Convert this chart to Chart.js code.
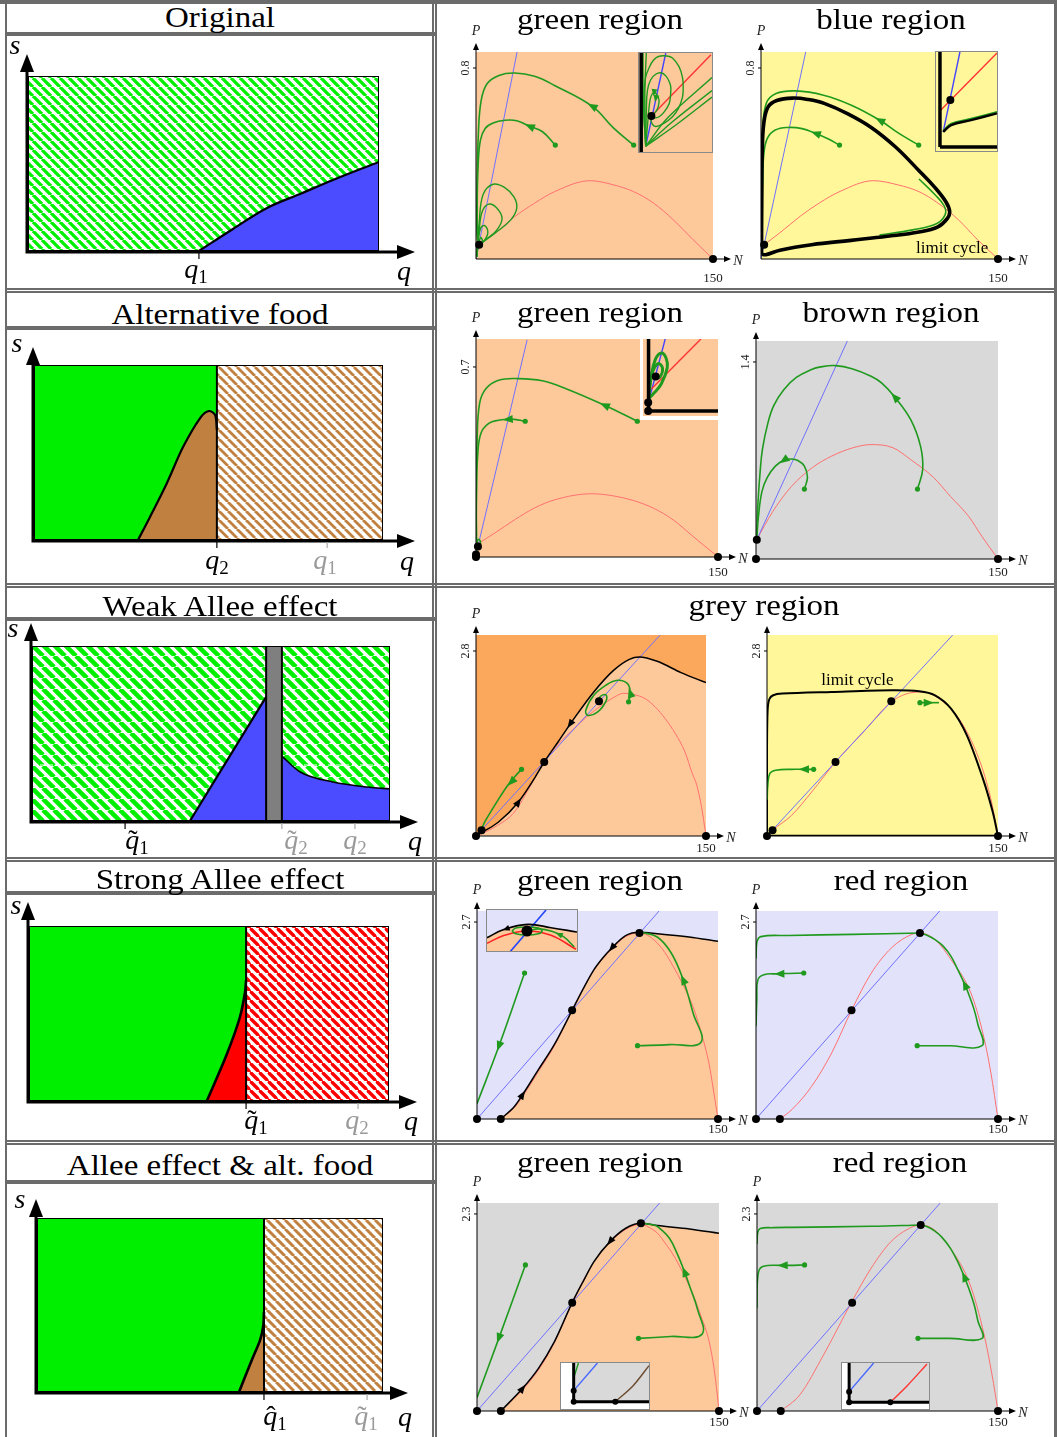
<!DOCTYPE html>
<html>
<head>
<meta charset="utf-8">
<script src="https://cdn.jsdelivr.net/npm/chart.js@4.4.1/dist/chart.umd.min.js"></script>
<style>
body { margin: 0; background: #fff; width: 1057px; height: 1437px; position: relative; overflow: hidden; font-family: "Liberation Serif", serif; }
.hl { position: absolute; box-sizing: border-box; height: 5px; border-top: 2px solid #6b6b6b; border-bottom: 2px solid #6b6b6b; }
.vl { position: absolute; box-sizing: border-box; width: 5px; border-left: 2px solid #6b6b6b; border-right: 2px solid #6b6b6b; }
.t { position: absolute; transform: translate(-50%, -50%) scaleX(1.1); font-size: 30px; line-height: 1; white-space: nowrap; }
.lb { position: absolute; transform: translate(-50%, -50%); font-size: 28px; font-style: italic; line-height: 1; white-space: nowrap; }
.lb sub { font-style: normal; font-size: 19px; vertical-align: -5px; }
.lb .ac { position: relative; display: inline-block; }
.lb .ac b { position: absolute; left: 3px; top: 0; font-weight: normal; font-style: normal; }
.gr { color: #9a9a9a; }
canvas { position: absolute; }
</style>
</head>
<body>

<!-- frame -->
<div class="hl" style="left:0;top:0;width:1057px;height:4px"></div>
<div class="hl" style="left:5px;top:288px;width:1052px"></div>
<div class="hl" style="left:5px;top:583px;width:1052px"></div>
<div class="hl" style="left:5px;top:857px;width:1052px"></div>
<div class="hl" style="left:5px;top:1140px;width:1052px"></div>
<div class="vl" style="left:432px;top:0;height:1437px"></div>
<div style="position:absolute;left:5px;top:0;width:2px;height:1437px;background:#6b6b6b"></div>
<div style="position:absolute;left:1054px;top:0;width:3px;height:1437px;background:#6b6b6b"></div>
<div class="hl" style="left:5px;top:32px;width:430px;height:4px"></div>
<div class="hl" style="left:5px;top:326px;width:430px;height:4px"></div>
<div class="hl" style="left:5px;top:617px;width:430px;height:4px"></div>
<div class="hl" style="left:5px;top:891px;width:430px;height:4px"></div>
<div class="hl" style="left:5px;top:1180px;width:430px;height:4px"></div>

<script>
// ---------- colours ----------
const PEACH = '#fdc99b', DARKOR = '#fba75c', YEL = '#fff799', GREY = '#d9d9d9', LAV = '#e2e2fa';
const TRJ = '#1f9a1f', NRED = '#ff7070', NBLUE = '#7070ff';
const LGREEN = '#00ee00', LBLUE = '#4b4bff', LBROWN = '#c0803f', LRED = '#ff0000', LGRAY = '#7f7f7f';

// ---------- left column: q, s as fraction of the parameter box ----------
const origCurve = [[0.487, 0], [0.584, 0.126], [0.681, 0.246], [0.78, 0.33], [0.869, 0.406], [1, 0.509]];
const origTicks = [0.487], origTicksGrey = [];

const altQ2 = 0.524;
const altCurve = [[0.298, 0], [0.332, 0.13], [0.381, 0.326], [0.427, 0.531], [0.476, 0.697], [0.501, 0.737], [0.519, 0.714], [0.524, 0.63]];
const altTicks = [0.524], altTicksGrey = [0.84];

const weakBar = [0.654, 0.698];
const weakDash = [[0, 0.32], [1, 0.32]];
const weakBlueL = [[0.441, 0], [0.654, 0.709]];
const weakBlueR = [[0.698, 0.371], [0.749, 0.28], [0.841, 0.223], [0.936, 0.194], [1, 0.183]];
const weakTicks = [0.26], weakTicksGrey = [0.698, 0.902];

const strongQ1 = 0.603;
const strongCurve = [[0.494, 0], [0.55, 0.27], [0.586, 0.48], [0.6, 0.62], [0.603, 0.69]];
const strongTicks = [0.603], strongTicksGrey = [0.914];

const bothQ1 = 0.656;
const bothCurve = [[0.584, 0], [0.62, 0.18], [0.645, 0.3], [0.654, 0.38], [0.656, 0.46]];
const bothTicks = [0.656], bothTicksGrey = [0.954];

const boxOutline = [[0, 0], [0, 1], [1, 1], [1, 0], [0, 0]];

// ---------- right column: N (0..150), P ----------
const yTicks = [0.8, 0.8, 0.7, 1.4, 2.8, 2.8, 2.7, 2.7, 2.3, 2.3];
const yMax = [0.867, 0.867, 0.803, 1.549, 3.042, 3.042, 2.851, 2.851, 2.428, 2.428];
const xTickLabel = 150;

// row 1, green region
const r1aRed = [[2, 0.06], [12, 0.108], [24.6, 0.178], [37.1, 0.234], [49.7, 0.282], [72.2, 0.328], [87.3, 0.31], [99.8, 0.282], [112.4, 0.234], [124.9, 0.164], [137.4, 0.081], [150, 0]];
const r1aBlue = [[0, 0], [26, 0.867]];
const r1aTraj = [
  [[99.8, 0.477], [87.3, 0.547], [73.5, 0.64], [49.7, 0.727], [37.1, 0.765], [24.6, 0.779], [14.5, 0.769], [7, 0.734], [3.3, 0.665], [1.5, 0.526], [0.75, 0.317], [0.75, 0.108], [2, 0.06]],
  [[50.2, 0.477], [42.1, 0.533], [33.9, 0.556], [25.8, 0.579], [18.3, 0.581], [10.8, 0.57], [5.8, 0.547], [2.8, 0.498], [1.3, 0.387], [0.75, 0.22], [1, 0.081], [2, 0.06]]
];
const r1aLoops = [
  [[0.5, 0.01], [2, 0.15], [4.5, 0.27], [10.8, 0.313], [18, 0.3], [24, 0.26], [25.8, 0.213], [22, 0.164], [12, 0.108], [4, 0.07], [2, 0.06]],
  [[0.5, 0.01], [2, 0.12], [4, 0.2], [8, 0.23], [13, 0.215], [16.5, 0.17], [13, 0.12], [6, 0.08], [2, 0.06]],
  [[0.5, 0.01], [1.5, 0.08], [3, 0.13], [5.5, 0.14], [7.5, 0.11], [5, 0.075], [2, 0.06]],
  [[0.5, 0.01], [1.5, 0.06], [3, 0.09], [4, 0.075], [2, 0.06]]
];
const r1aStart = [[99.8, 0.477], [50.2, 0.477]];
const r1aEq = [[2, 0.06], [150, 0]];
const r1aArrows = [[73.5, 0.64, 49.7, 0.727], [33.9, 0.556, 25.8, 0.579]];

// row 1, blue region
const r1bRed = [[2, 0.06], [12, 0.11], [25, 0.18], [37, 0.235], [50, 0.283], [71, 0.328], [87, 0.31], [100, 0.282], [112, 0.234], [125, 0.164], [137, 0.081], [150, 0]];
const r1bBlue = [[0, 0], [28.3, 0.867]];
const r1bCycle = [[0.3, 0.02], [0.5, 0.25], [0.8, 0.45], [1.8, 0.57], [4.5, 0.637], [10, 0.664], [20, 0.674], [30, 0.668], [40, 0.652], [55, 0.608], [70, 0.55], [85, 0.47], [100, 0.37], [110, 0.3], [117, 0.24], [119.4, 0.2], [118, 0.17], [112, 0.135], [100, 0.113], [80, 0.095], [57, 0.078], [32, 0.06], [12, 0.037], [3, 0.018], [0.3, 0.02]];
const r1bTraj = [
  [[99.8, 0.477], [87.3, 0.526], [75.2, 0.581], [57.2, 0.644], [39.6, 0.686], [22, 0.704], [9.5, 0.693], [3.3, 0.651], [1, 0.526], [0.5, 0.317], [0.4, 0.15]],
  [[49.7, 0.477], [42, 0.505], [34.6, 0.526], [26, 0.546], [17, 0.551], [9, 0.54], [4, 0.505], [1.8, 0.44], [1, 0.317], [0.6, 0.2]],
  [[100, 0.335], [110, 0.27], [116, 0.222], [116.5, 0.185], [111, 0.148], [96, 0.122], [75, 0.1]]
];
const r1bStart = [[99.8, 0.477], [49.7, 0.477]];
const r1bEq = [[2, 0.06], [150, 0]];
const r1bArrows = [[75.2, 0.581, 57.2, 0.644], [34.6, 0.526, 26, 0.546]];
const r1bText = [[121, 0.042, 'limit cycle']];

// row 2, green region
const r2aRed = [[1.2, 0.049], [11.6, 0.088], [23.9, 0.137], [36.1, 0.18], [48.4, 0.21], [71.8, 0.233], [85.3, 0.225], [97.6, 0.208], [109.9, 0.18], [122.2, 0.137], [134.5, 0.076], [150, 0]];
const r2aBlue = [[0, 0.01], [31.7, 0.8]];
const r2aTraj = [
  [[100, 0.5], [79.7, 0.559], [55.8, 0.62], [41.1, 0.649], [26.3, 0.657], [14, 0.651], [6.1, 0.62], [2.2, 0.565], [0.7, 0.431], [0.25, 0.247], [0.25, 0.076], [1.2, 0.045]],
  [[30.5, 0.5], [23.9, 0.507], [19.7, 0.507], [14, 0.504], [7.9, 0.492], [3, 0.455], [1, 0.37], [0.25, 0.223], [0.25, 0.076]],
  [[0.3, 0.02], [0.8, 0.06], [2, 0.065], [2.8, 0.05], [1.8, 0.04]]
];
const r2aStart = [[100, 0.5], [30.5, 0.5]];
const r2aEq = [[1.2, 0.039], [0, 0.009], [0, 0], [150, 0]];
const r2aArrows = [[79.7, 0.559, 55.8, 0.62], [19.7, 0.507, 14, 0.504]];

// row 2, brown region
const r2bRed = [[0.5, 0.137], [10, 0.33], [22, 0.516], [35, 0.65], [46.7, 0.73], [60, 0.79], [71.3, 0.813], [85, 0.79], [95.9, 0.706], [110, 0.58], [120.5, 0.445], [132, 0.3], [140, 0.161], [150, 0]];
const r2bBlue = [[0.5, 0.137], [57.3, 1.566]];
const r2bTraj = [
  [[100.1, 0.497], [103.3, 0.635], [102, 0.8], [95.9, 0.99], [86, 1.151], [78, 1.25], [71.3, 1.298], [60, 1.35], [49.2, 1.374], [40, 1.365], [34.4, 1.346], [25, 1.29], [17.2, 1.203], [11, 1.09], [7.4, 0.967], [4, 0.78], [2.5, 0.611], [1, 0.35], [0.5, 0.142]],
  [[30, 0.497], [31.9, 0.58], [30, 0.66], [26, 0.7], [22.1, 0.711], [17.2, 0.701], [12, 0.66], [7, 0.58], [3.7, 0.48], [1.5, 0.3], [0.5, 0.142]]
];
const r2bStart = [[100.1, 0.497], [30, 0.497]];
const r2bEq = [[0.5, 0.137], [0, 0], [150, 0]];
const r2bArrows = [[86, 1.151, 78, 1.25], [17.2, 0.701, 12, 0.66]];

// row 3, grey region (left)
const r3aBlack = [[0, 0], [4.4, 0.061], [14.7, 0.212], [27.7, 0.515], [38, 0.868], [44.5, 1.12], [53.5, 1.423], [63.9, 1.776], [76.8, 2.18], [89.7, 2.507], [100, 2.674], [106.5, 2.709], [118.2, 2.644], [133.7, 2.472], [150, 2.321]];
const r3aRed = [[0, 0], [12.2, 0.136], [25.1, 0.363], [35, 0.74], [44.5, 1.12], [54, 1.4], [63.9, 1.624], [73, 1.82], [82, 1.978], [90, 2.1], [96.2, 2.16], [103, 2.14], [110.4, 2.078], [117, 1.95], [123.4, 1.776], [130, 1.55], [136.3, 1.271], [141, 0.95], [144, 0.767], [147, 0.45], [150, 0]];
const r3aBlue = [[0, 0], [120, 3.04]];
const r3aTraj = [
  [[29.7, 1.009], [25.1, 0.893], [19.9, 0.742], [12.2, 0.464], [5.7, 0.212], [3.6, 0.096]],
  [[99.5, 2.03], [100.6, 2.169], [98.8, 2.306], [92.3, 2.356], [84.6, 2.28], [76.8, 2.129], [71.6, 1.902], [72.9, 1.826], [79.4, 1.877], [85, 2.053], [84.6, 2.139], [80.7, 2.104], [80.2, 2.038]]
];
const r3aStart = [[29.7, 1.009], [99.5, 2.03]];
const r3aEq = [[0, 0], [3.6, 0.086], [44.5, 1.12], [80.2, 2.038], [150, 0]];
const r3aArrows = [[23, 0.817, 19.9, 0.742], [100.6, 2.169, 98.8, 2.306]];
const r3aBlackArrows = [[61.3, 1.69, 53.5, 1.423], [27.7, 0.515, 38, 0.868]];

// row 3, grey region (right)
const r3bCycle = [[0, 0], [0, 1.3], [0.4, 1.9], [1.5, 2.07], [4, 2.13], [10, 2.155], [41.9, 2.18], [80.7, 2.205], [98.8, 2.19], [109.1, 2.129], [119.5, 1.927], [129.8, 1.524], [140.2, 0.868], [146.6, 0.363], [150, 0]];
const r3bCycleBase = [[0, 0], [150, 0]];
const r3bRed = [[0, 0], [3.6, 0.086], [16, 0.313], [29, 0.666], [44.5, 1.12], [62.6, 1.574], [80.7, 2.028], [93.6, 2.169], [101.4, 2.18], [111.7, 2.079], [124.6, 1.776], [137.6, 1.17], [145.3, 0.565], [150, 0]];
const r3bBlue = [[0, 0], [120.5, 3.04]];
const r3bTraj = [
  [[30.3, 1.009], [23, 1.009], [16, 1.009], [5.7, 0.994], [1.8, 0.943], [0.5, 0.767], [0.1, 0.55]],
  [[99.3, 2.018], [111.7, 2.018]]
];
const r3bStart = [[30.3, 1.009], [99.3, 2.018]];
const r3bEq = [[0, 0], [3.6, 0.086], [44.5, 1.12], [80.7, 2.038], [150, 0]];
const r3bArrows = [[24, 1.009, 16, 1.009], [105, 2.018, 111.7, 2.018]];
const r3bText = [[58.7, 2.36, 'limit cycle']];

// row 4, green region
const r4aBlack = [[14.8, 0], [23.4, 0.174], [28.4, 0.334], [38.2, 0.676], [48.1, 1.019], [59.2, 1.489], [66, 1.78], [72.8, 2.047], [78, 2.2], [83.9, 2.344], [92.5, 2.513], [101.1, 2.559], [112.2, 2.54], [132, 2.495], [150, 2.435]];
const r4aRed = [[14.8, 0], [23.4, 0.16], [28.4, 0.31], [38.2, 0.65], [48.1, 1.0], [59.2, 1.489], [72.8, 2.04], [83.9, 2.33], [92.5, 2.5], [101.1, 2.55], [106, 2.52], [112.2, 2.412], [117, 2.28], [122.1, 2.093], [128, 1.85], [134.4, 1.544], [138, 1.3], [141.9, 0.996], [144.5, 0.75], [146.8, 0.448], [150, 0]];
const r4aBlue = [[0, 0], [113.5, 2.855]];
const r4aTraj = [
  [[29.6, 2.001], [13.6, 0.996], [0, 0.21]],
  [[99.9, 1.005], [120, 1.02], [139.4, 1.051], [134.5, 1.453], [128.3, 1.91], [120.9, 2.275], [112.2, 2.495], [102.4, 2.559]]
];
const r4aStart = [[29.6, 2.001], [99.9, 1.005]];
const r4aEq = [[0, 0], [14.8, 0], [59.2, 1.489], [101.1, 2.549], [150, 0]];
const r4aArrows = [[13.6, 0.996, 0, 0.21], [128.3, 1.91, 120.9, 2.275]];
const r4aBlackArrows = [[28.4, 0.334, 38.2, 0.676], [83.9, 2.344, 72.8, 2.047]];

// row 4, red region
const r4bRed = [[14.8, 0], [22.2, 0.128], [34.5, 0.448], [46.9, 0.905], [59.2, 1.489], [71.5, 2.001], [83.9, 2.344], [96.2, 2.527], [101.6, 2.549], [111, 2.458], [120.9, 2.184], [133.2, 1.727], [140.6, 1.179], [145.6, 0.631], [150, 0]];
const r4bBlue = [[0, 0], [114, 2.855]];
const r4bTraj = [
  [[0, 2.2], [0.5, 2.42], [3, 2.5], [20, 2.515], [60, 2.53], [101.6, 2.549]],
  [[29.6, 2.001], [20, 1.995], [13, 1.99], [4.9, 1.978], [1.2, 1.91], [0.5, 1.636], [0, 1.27]],
  [[99.9, 1.005], [120, 1.005], [140.1, 1.005], [137.5, 1.3], [135.2, 1.499], [132, 1.7], [129.5, 1.841], [125, 2.05], [120.9, 2.23], [116, 2.37], [111, 2.458], [106, 2.52], [101.6, 2.549]]
];
const r4bStart = [[29.6, 2.001], [99.9, 1.005]];
const r4bEq = [[0, 0], [14.8, 0], [59.2, 1.489], [101.6, 2.549], [150, 0]];
const r4bArrows = [[14.5, 1.99, 8, 1.985], [129.5, 1.841, 125, 2.05]];

// row 5, green region
const r5aBlack = [[14.8, 0], [28.3, 0.265], [38.1, 0.498], [48, 0.81], [59, 1.265], [66, 1.52], [72.5, 1.744], [82.4, 1.977], [92.2, 2.133], [101.6, 2.191], [111.9, 2.164], [131.6, 2.125], [150, 2.074]];
const r5aRed = [[14.8, 0], [28.3, 0.25], [38.1, 0.48], [48, 0.8], [59, 1.265], [72.5, 1.74], [82.4, 1.97], [92.2, 2.12], [101.6, 2.18], [106, 2.15], [111.9, 2.074], [117, 1.95], [121.7, 1.821], [128, 1.6], [134, 1.354], [139, 1.1], [143.9, 0.81], [147.5, 0.42], [150, 0]];
const r5aBlue = [[0, 0], [113.4, 2.432]];
const r5aTraj = [
  [[30, 1.705], [13.5, 0.848], [0, 0.156]],
  [[100.1, 0.848], [120, 0.87], [139.4, 0.895], [136.5, 1.199], [132.5, 1.42], [128.6, 1.627], [124, 1.84], [119.3, 2.016], [114, 2.12], [110.7, 2.164], [105, 2.185], [101.6, 2.191]]
];
const r5aStart = [[30, 1.705], [100.1, 0.848]];
const r5aEq = [[0, 0], [14.8, 0], [59, 1.265], [101.6, 2.191], [150, 0]];
const r5aArrows = [[13.5, 0.848, 0, 0.156], [128.6, 1.627, 124, 1.84]];
const r5aBlackArrows = [[28.3, 0.265, 38.1, 0.498], [82.4, 1.977, 72.5, 1.744]];

// row 5, red region
const r5bRed = [[14.8, 0], [26.6, 0.187], [41.4, 0.654], [58.7, 1.265], [71, 1.666], [83.4, 1.977], [95.7, 2.14], [101.9, 2.172], [110.5, 2.113], [120.4, 1.899], [132.7, 1.471], [141.4, 0.887], [146.3, 0.42], [150, 0]];
const r5bBlue = [[0, 0], [114.2, 2.432]];
const r5bTraj = [
  [[0, 1.95], [0.4, 2.08], [2, 2.13], [10, 2.14], [21.7, 2.144], [71, 2.156], [101.9, 2.172]],
  [[29.6, 1.705], [20, 1.7], [15.5, 1.7], [4, 1.69], [1, 1.627], [0, 1.393], [0, 1.2]],
  [[100.2, 0.848], [120, 0.848], [140.1, 0.848], [137.5, 1.05], [135.2, 1.238], [132, 1.42], [129, 1.568], [125, 1.74], [120.4, 1.899], [115, 2.03], [110.5, 2.102], [106, 2.15], [101.9, 2.172]]
];
const r5bStart = [[29.6, 1.705], [100.2, 0.848]];
const r5bEq = [[0, 0], [14.8, 0], [59.2, 1.265], [101.9, 2.172], [150, 0]];
const r5bArrows = [[16, 1.7, 8, 1.695], [129, 1.568, 125, 1.74]];

// ---------- insets (0..1 in both directions) ----------
const in1aAxis = [[0.03, 0], [0.03, 1]];
const in1aBlue = [[0.092, 0.059], [0.367, 1]];
const in1aRed = [[0.17, 0.363], [0.986, 0.983]];
const in1aTraj = [
  [[0.092, 0.059], [0.07, 0.35], [0.069, 0.554], [0.09, 0.75], [0.138, 0.851], [0.2, 0.93], [0.275, 0.967], [0.38, 0.97], [0.459, 0.95], [0.55, 0.86], [0.596, 0.752], [0.605, 0.65], [0.596, 0.554], [0.54, 0.44], [0.459, 0.356], [0.34, 0.29], [0.229, 0.257], [0.17, 0.3], [0.17, 0.363]],
  [[0.092, 0.059], [0.1, 0.4], [0.115, 0.62], [0.16, 0.73], [0.229, 0.785], [0.3, 0.8], [0.367, 0.769], [0.42, 0.7], [0.436, 0.653], [0.43, 0.56], [0.413, 0.488], [0.35, 0.41], [0.275, 0.356], [0.2, 0.345], [0.17, 0.363]],
  [[0.092, 0.059], [0.12, 0.3], [0.138, 0.45], [0.161, 0.554], [0.2, 0.6], [0.245, 0.58], [0.275, 0.521], [0.26, 0.45], [0.229, 0.406], [0.17, 0.363]],
  [[0.092, 0.059], [0.4, 0.35], [1, 0.752]],
  [[0.092, 0.059], [0.45, 0.3], [1, 0.62]],
  [[0.092, 0.059], [0.5, 0.27], [1, 0.554]],
  [[0.092, 0.059], [0.06, 0.5], [0.055, 1]],
  [[0.092, 0.059], [0.08, 0.6], [0.1, 1]]
];
const in1aEq = [[0.17, 0.363]];
const in1aArrows = [[0.206, 0.6, 0.19, 0.52], [0.229, 0.54, 0.21, 0.47]];

const in1bAxisV = [[0.065, 0.04], [0.065, 1]];
const in1bAxisH = [[0.065, 0.04], [1, 0.04]];
const in1bBlue = [[0.118, 0.193], [0.392, 1]];
const in1bRed = [[0.052, 0.397], [1, 0.99]];
const in1bCycle = [[0.118, 0.193], [0.248, 0.261], [0.575, 0.312], [1, 0.38]];
const in1bTraj = [[0.118, 0.205], [0.25, 0.277], [0.575, 0.327], [1, 0.397]];
const in1bEq = [[0.235, 0.515]];

const in2aAxisV = [[0.074, 0.064], [0.074, 1]];
const in2aAxisH = [[0.074, 0.064], [1, 0.064]];
const in2aBlue = [[0.085, 0.225], [0.296, 1]];
const in2aRed = [[0.111, 0.352], [0.772, 1]];
const in2aTraj = [
  [[0.074, 0.225], [0.111, 0.521], [0.164, 0.733], [0.243, 0.818], [0.307, 0.754], [0.323, 0.627], [0.243, 0.415], [0.138, 0.288], [0.074, 0.225]],
  [[0.074, 0.3], [0.12, 0.55], [0.2, 0.68], [0.26, 0.62], [0.22, 0.5], [0.169, 0.513]]
];
const in2aEq = [[0.169, 0.513], [0.069, 0.174], [0.069, 0.064]];

const in4aBlack = [[0, 0.325], [0.193, 0.528], [0.452, 0.65], [0.711, 0.569], [1, 0.463]];
const in4aRed = [[0, 0.187], [0.193, 0.382], [0.444, 0.488], [0.711, 0.382], [0.989, 0.041]];
const in4aBlue = [[0.248, -0.04], [0.656, 1]];
const in4aTraj = [
  [[0.277, 0.488], [0.32, 0.56], [0.444, 0.586], [0.57, 0.56], [0.611, 0.488], [0.57, 0.42], [0.444, 0.39], [0.32, 0.42], [0.277, 0.488]],
  [[0.97, 0.1], [0.85, 0.35], [0.72, 0.48], [0.58, 0.54], [0.46, 0.5]]
];
const in4aEq = [[0.444, 0.488]];
const in4aArrows = [[0.8, 0.407, 0.72, 0.48]];
const in4aBlackArrows = [[0.211, 0.535, 0.1, 0.44]];

const in5aAxisV = [[0.144, 0.159], [0.144, 1]];
const in5aAxisH = [[0.144, 0.159], [1, 0.159]];
const in5aShade = [[0.144, 1], [1, 1]];
const in5aBlue = [[0.144, 0.399], [0.414, 1]];
const in5aCurve = [[0.617, 0.159], [0.82, 0.507], [1, 0.942]];
const in5aTraj = [[0.153, 0.725], [0.198, 1]];
const in5aEq = [[0.144, 0.399], [0.144, 0.159], [0.617, 0.159]];

const in5bAxisV = [[0.082, 0.145], [0.082, 1]];
const in5bAxisH = [[0.082, 0.145], [1, 0.145]];
const in5bShade = [[0.082, 1], [1, 1]];
const in5bBlue = [[0.082, 0.377], [0.364, 1]];
const in5bRed = [[0.555, 0.145], [0.75, 0.507], [0.977, 0.978]];
const in5bEq = [[0.082, 0.377], [0.082, 0.145], [0.555, 0.145]];

// ---------- helpers ----------
function ds(data, o) {
  return Object.assign({ data: data.map(p => ({ x: p[0], y: p[1] })), borderWidth: 0, pointRadius: 0, fill: false, tension: 0 }, o);
}
const curve = (d, c, w, t = 0.4, extra = {}) => ds(d, Object.assign({ borderColor: c, borderWidth: w, tension: t }, extra));
const mono = (d, c, w) => ds(d, { borderColor: c, borderWidth: w, cubicInterpolationMode: 'monotone' });
const area = (d, c, extra = {}) => ds(d, Object.assign({ backgroundColor: c, fill: 'origin', borderColor: 'rgba(0,0,0,0)' }, extra));
const dots = (d, c, r) => ds(d, { showLine: false, pointRadius: r, pointBackgroundColor: c, pointBorderWidth: 0, clip: false });

function hatch(color, p, w) {
  const c = document.createElement('canvas');
  c.width = p; c.height = p;
  const g = c.getContext('2d');
  g.fillStyle = '#fff'; g.fillRect(0, 0, p, p);
  g.strokeStyle = color; g.lineWidth = w;
  g.beginPath();
  for (let k = -1; k <= 1; k++) { g.moveTo(k * p, 0); g.lineTo(k * p + p, p); }
  g.stroke();
  return g.createPattern(c, 'repeat');
}

function head(g, x, y, ang, len, hw, col) {
  g.save();
  g.translate(x, y); g.rotate(ang);
  g.beginPath(); g.moveTo(len / 2, 0); g.lineTo(-len / 2, hw); g.lineTo(-len / 2, -hw); g.closePath();
  g.fillStyle = col; g.fill();
  g.restore();
}

function drawArrows(ch, list, col, len, hw) {
  const xs = ch.scales.x, ys = ch.scales.y;
  (list || []).forEach(a => {
    const px = xs.getPixelForValue(a[0]), py = ys.getPixelForValue(a[1]);
    const ang = Math.atan2(ys.getPixelForValue(a[3]) - py, xs.getPixelForValue(a[2]) - px);
    head(ch.ctx, px, py, ang, len, hw, col);
  });
}

function mkCanvas(box, pad) {
  const c = document.createElement('canvas');
  const w = Math.round(box.r - box.l), h = Math.round(box.b - box.t);
  c.width = w + pad.l + pad.r; c.height = h + pad.t + pad.b;
  c.style.left = Math.round(box.l - pad.l) + 'px';
  c.style.top = Math.round(box.t - pad.t) + 'px';
  document.body.appendChild(c);
  return c;
}

function cfg(sets, pad, xmax, ymax, plugin) {
  const n = sets.length;
  sets.forEach((s, i) => { s.order = n - i; });
  return {
    type: 'line',
    data: { datasets: sets },
    options: {
      responsive: false, animation: false, events: [],
      layout: { padding: { left: pad.l, top: pad.t, right: pad.r, bottom: pad.b }, autoPadding: false },
      scales: {
        x: { type: 'linear', min: 0, max: xmax, display: false },
        y: { type: 'linear', min: 0, max: ymax, display: false }
      },
      plugins: { legend: { display: false }, tooltip: { enabled: false } }
    },
    plugins: [plugin]
  };
}

// ---------- left column panels ----------
function leftPanel(box, sUp, qRight, ticks, ticksGrey, sets) {
  const pad = { l: 22, t: 34, r: 48, b: 14 };
  const c = mkCanvas(box, pad);
  new Chart(c, cfg(sets, pad, 1, 1, {
    id: 'deco',
    afterDatasetsDraw(ch) {
      const a = ch.chartArea, g = ch.ctx, xs = ch.scales.x;
      const x0 = a.left - 1, y0 = a.bottom + 1;
      g.save();
      g.strokeStyle = '#000'; g.lineWidth = 3;
      g.beginPath();
      g.moveTo(x0, y0); g.lineTo(x0, a.top - sUp + 12);
      g.moveTo(x0 - 1.5, y0); g.lineTo(a.right + qRight - 12, y0);
      g.stroke();
      head(g, x0, a.top - sUp + 9, -Math.PI / 2, 18, 7, '#000');
      head(g, a.right + qRight - 9, y0, 0, 18, 7, '#000');
      g.lineWidth = 1.2;
      ticks.forEach(t => { const px = xs.getPixelForValue(t); g.strokeStyle = '#000'; g.beginPath(); g.moveTo(px, y0 + 1); g.lineTo(px, y0 + 7); g.stroke(); });
      ticksGrey.forEach(t => { const px = xs.getPixelForValue(t); g.strokeStyle = '#aaa'; g.beginPath(); g.moveTo(px, y0 + 1); g.lineTo(px, y0 + 7); g.stroke(); });
      g.restore();
    }
  }));
}

const hGreen1 = hatch(LGREEN, 9, 3.3);
const hBrown2 = hatch(LBROWN, 9, 2.8);
const hGreen3 = hatch(LGREEN, 11, 4.6);
const hRed4 = hatch(LRED, 9.5, 3.4);
const hBrown5 = hatch(LBROWN, 9, 3);

leftPanel({ l: 28, t: 76, r: 379, b: 251 }, 22, 36, origTicks, origTicksGrey, [
  area(boxOutline.slice(0, 4), hGreen1),
  area(origCurve, LBLUE, { tension: 0.35 }),
  curve(origCurve, '#000', 2.2, 0.35),
  curve(boxOutline, '#000', 2, 0)
]);

leftPanel({ l: 34, t: 365, r: 383, b: 540 }, 18, 32, altTicks, altTicksGrey, [
  area([[0, 1], [altQ2, 1]], LGREEN),
  area([[altQ2, 1], [1, 1]], hBrown2),
  area(altCurve, LBROWN, { tension: 0.3 }),
  curve(altCurve, '#000', 2.2, 0.3),
  curve([[altQ2, 0], [altQ2, 1]], '#000', 2, 0),
  curve(boxOutline, '#000', 2, 0)
]);

leftPanel({ l: 32, t: 646, r: 390, b: 821 }, 23, 28, weakTicks, weakTicksGrey, [
  area([[0, 1], [1, 1]], hGreen3),
  curve(weakDash, '#ffffff', 1.2, 0, { borderDash: [5, 3] }),
  area(weakBlueL, LBLUE),
  area(weakBlueR, LBLUE, { cubicInterpolationMode: 'monotone' }),
  area([[weakBar[0], 1], [weakBar[1], 1]], LGRAY),
  curve(weakBlueL, '#000', 2.2, 0),
  ds(weakBlueR, { borderColor: '#000', borderWidth: 1.6, cubicInterpolationMode: 'monotone' }),
  curve([[weakBar[0], 0], [weakBar[0], 1]], '#000', 2, 0),
  curve([[weakBar[1], 0], [weakBar[1], 1]], '#000', 2, 0),
  curve(boxOutline, '#000', 2, 0)
]);

leftPanel({ l: 29, t: 926, r: 389, b: 1101 }, 24, 28, strongTicks, strongTicksGrey, [
  area([[0, 1], [strongQ1, 1]], LGREEN),
  area([[strongQ1, 1], [1, 1]], hRed4),
  area(strongCurve, LRED, { tension: 0.3 }),
  curve(strongCurve, '#000', 2.6, 0.3),
  curve([[strongQ1, 0], [strongQ1, 1]], '#000', 2, 0),
  curve(boxOutline, '#000', 2, 0)
]);

leftPanel({ l: 37, t: 1218, r: 383, b: 1392 }, 19, 25, bothTicks, bothTicksGrey, [
  area([[0, 1], [bothQ1, 1]], LGREEN),
  area([[bothQ1, 1], [1, 1]], hBrown5),
  area(bothCurve, LBROWN, { tension: 0.3 }),
  curve(bothCurve, '#000', 2.6, 0.3),
  curve([[bothQ1, 0], [bothQ1, 1]], '#000', 2, 0),
  curve(boxOutline, '#000', 2, 0)
]);

// ---------- right column phase portraits ----------
function phase(box, k, bg, sets, o = {}) {
  const pad = { l: 28, t: 34, r: 40, b: 30 };
  const c = mkCanvas(box, pad);
  const ytick = yTicks[k];
  const lblDy = o.lblDy || 20;
  new Chart(c, cfg(sets, pad, 150, yMax[k], {
    id: 'deco',
    beforeDatasetsDraw(ch) {
      const a = ch.chartArea, g = ch.ctx;
      g.save(); g.fillStyle = bg; g.fillRect(a.left, a.top, a.right - a.left, a.bottom - a.top); g.restore();
    },
    afterDatasetsDraw(ch) {
      const a = ch.chartArea, g = ch.ctx, xs = ch.scales.x, ys = ch.scales.y;
      g.save();
      drawArrows(ch, o.arrows, TRJ, 10, 4);
      drawArrows(ch, o.blackArrows, '#000', 9, 3.5);
      g.strokeStyle = '#000'; g.lineWidth = 1;
      g.beginPath();
      g.moveTo(a.left, a.bottom); g.lineTo(a.left, a.top - 4);
      g.moveTo(a.left, a.bottom); g.lineTo(a.right + 13, a.bottom);
      g.stroke();
      head(g, a.left, a.top - 5.5, -Math.PI / 2, 7, 3, '#000');
      head(g, a.right + 14.5, a.bottom, 0, 7, 3, '#000');
      const ty = ys.getPixelForValue(ytick);
      g.beginPath(); g.moveTo(a.left - 3, ty); g.lineTo(a.left, ty); g.stroke();
      g.fillStyle = '#222'; g.textAlign = 'center'; g.textBaseline = 'middle';
      g.font = '12px "Liberation Serif"';
      g.save(); g.translate(a.left - 10, ty); g.rotate(-Math.PI / 2); g.fillText(String(ytick), 0, 0); g.restore();
      g.font = '13px "Liberation Serif"';
      g.fillText(String(xTickLabel), xs.getPixelForValue(xTickLabel), a.bottom + lblDy);
      g.font = 'italic 14px "Liberation Serif"';
      if (!o.noP) g.fillText('P', a.left, a.top - 21);
      g.fillText('N', a.right + 25, a.bottom + 2);
      g.fillStyle = '#000'; g.font = '17px "Liberation Serif"';
      (o.texts || []).forEach(t => g.fillText(t[2], xs.getPixelForValue(t[0]), ys.getPixelForValue(t[1])));
      g.restore();
    }
  }));
}

function inset(box, bg, sets, o = {}) {
  const pad = o.pad || { l: 1, t: 1, r: 1, b: 1 };
  const c = mkCanvas(box, pad);
  if (o.white) c.style.background = '#fff';
  new Chart(c, cfg(sets, pad, 1, 1, {
    id: 'deco',
    beforeDatasetsDraw(ch) {
      const a = ch.chartArea, g = ch.ctx;
      g.save(); g.fillStyle = bg; g.fillRect(a.left, a.top, a.right - a.left, a.bottom - a.top); g.restore();
    },
    afterDatasetsDraw(ch) {
      const a = ch.chartArea, g = ch.ctx;
      drawArrows(ch, o.arrows, TRJ, 7, 3);
      drawArrows(ch, o.blackArrows, '#000', 7, 3);
      if (o.border) {
        g.save(); g.strokeStyle = o.border; g.lineWidth = 1;
        g.strokeRect(a.left - 0.5, a.top - 0.5, a.right - a.left + 1, a.bottom - a.top + 1);
        g.restore();
      }
    }
  }));
}

const trj = (list, w) => list.map(d => curve(d, TRJ, w || 1.6));

// row 1
phase({ l: 476, t: 52, r: 713, b: 259 }, 0, PEACH, [
  mono(r1aRed, NRED, 1), curve(r1aBlue, NBLUE, 1, 0),
  ...trj(r1aLoops, 1.4), ...trj(r1aTraj),
  dots(r1aStart, TRJ, 2.6), dots(r1aEq, '#000', 4)
], { arrows: r1aArrows, lblDy: 20 });
inset({ l: 639, t: 53, r: 712, b: 152 }, PEACH, [
  curve(in1aBlue, '#4444ff', 1.4, 0), curve(in1aRed, '#ff3333', 1.4, 0),
  ...trj(in1aTraj, 1.4),
  curve(in1aAxis, '#000', 3.5, 0), dots(in1aEq, '#000', 4)
], { border: '#8a8a8a', arrows: in1aArrows });

phase({ l: 761, t: 52, r: 998, b: 259 }, 1, YEL, [
  mono(r1bRed, NRED, 1), curve(r1bBlue, NBLUE, 1, 0),
  ...trj(r1bTraj),
  curve(r1bCycle, '#000', 3.6, 0.4),
  dots(r1bStart, TRJ, 2.6), dots(r1bEq, '#000', 4)
], { arrows: r1bArrows, texts: r1bText, lblDy: 20 });
inset({ l: 936, t: 52, r: 997, b: 151 }, YEL, [
  curve(in1bBlue, '#4444ff', 1.4, 0), curve(in1bRed, '#ff3333', 1.4, 0),
  curve(in1bTraj, TRJ, 1.6), curve(in1bCycle, '#000', 2.4),
  curve(in1bAxisV, '#000', 3.5, 0), curve(in1bAxisH, '#000', 3.5, 0),
  dots(in1bEq, '#000', 4)
], { border: '#8a8a8a' });

// row 2
phase({ l: 476, t: 339, r: 718, b: 557 }, 2, PEACH, [
  mono(r2aRed, NRED, 1), curve(r2aBlue, NBLUE, 1, 0),
  ...trj(r2aTraj),
  dots(r2aStart, TRJ, 2.6), dots(r2aEq, '#000', 4)
], { arrows: r2aArrows, lblDy: 16 });
inset({ l: 643, t: 339, r: 718, b: 416 }, PEACH, [
  curve(in2aBlue, '#4444ff', 1.4, 0), curve(in2aRed, '#ff3333', 1.4, 0),
  ...trj(in2aTraj, 3),
  curve(in2aAxisV, '#000', 3.5, 0), curve(in2aAxisH, '#000', 3.5, 0),
  dots(in2aEq, '#000', 4)
], { white: true, pad: { l: 3, t: 0, r: 0, b: 4 } });

phase({ l: 756, t: 341, r: 998, b: 559 }, 3, GREY, [
  mono(r2bRed, NRED, 1), curve(r2bBlue, NBLUE, 1, 0),
  ...trj(r2bTraj),
  dots(r2bStart, TRJ, 2.6), dots(r2bEq, '#000', 4)
], { arrows: r2bArrows, lblDy: 14 });

// row 3
phase({ l: 476, t: 635, r: 706, b: 836 }, 4, DARKOR, [
  ds(r3aBlack, { backgroundColor: PEACH, fill: 'origin', borderColor: 'rgba(0,0,0,0)', cubicInterpolationMode: 'monotone' }),
  mono(r3aRed, NRED, 1), curve(r3aBlue, NBLUE, 1, 0),
  mono(r3aBlack, '#000', 1.5),
  ...trj(r3aTraj),
  dots(r3aStart, TRJ, 2.6), dots(r3aEq, '#000', 4)
], { arrows: r3aArrows, blackArrows: r3aBlackArrows, lblDy: 13 });

phase({ l: 767, t: 635, r: 998, b: 836 }, 5, YEL, [
  mono(r3bRed, NRED, 1), curve(r3bBlue, NBLUE, 1, 0),
  curve(r3bCycle, '#000', 2, 0.3), curve(r3bCycleBase, '#000', 2.5, 0),
  ...trj(r3bTraj),
  dots(r3bStart, TRJ, 2.6), dots(r3bEq, '#000', 4)
], { arrows: r3bArrows, texts: r3bText, noP: true, lblDy: 13 });

// row 4
phase({ l: 477, t: 911, r: 718, b: 1119 }, 6, LAV, [
  ds(r4aBlack, { backgroundColor: PEACH, fill: 'origin', borderColor: 'rgba(0,0,0,0)', cubicInterpolationMode: 'monotone' }),
  mono(r4aRed, NRED, 1), curve(r4aBlue, NBLUE, 1, 0),
  mono(r4aBlack, '#000', 1.5),
  ...trj(r4aTraj),
  dots(r4aStart, TRJ, 2.6), dots(r4aEq, '#000', 4)
], { arrows: r4aArrows, blackArrows: r4aBlackArrows, lblDy: 11 });
inset({ l: 487, t: 910, r: 577, b: 951 }, LAV, [
  area(in4aBlack, PEACH, { tension: 0.4 }),
  curve(in4aRed, '#ff2222', 1.6), curve(in4aBlue, '#2244ff', 1.6, 0),
  curve(in4aBlack, '#000', 1.6),
  ...trj(in4aTraj, 1.6),
  dots(in4aEq, '#000', 5.5)
], { border: '#8a8a8a', arrows: in4aArrows, blackArrows: in4aBlackArrows });

phase({ l: 756, t: 911, r: 998, b: 1119 }, 7, LAV, [
  mono(r4bRed, NRED, 1), curve(r4bBlue, NBLUE, 1, 0),
  ...trj(r4bTraj),
  dots(r4bStart, TRJ, 2.6), dots(r4bEq, '#000', 4)
], { arrows: r4bArrows, lblDy: 11 });

// row 5
phase({ l: 477, t: 1203, r: 719, b: 1411 }, 8, GREY, [
  ds(r5aBlack, { backgroundColor: PEACH, fill: 'origin', borderColor: 'rgba(0,0,0,0)', cubicInterpolationMode: 'monotone' }),
  mono(r5aRed, NRED, 1), curve(r5aBlue, NBLUE, 1, 0),
  mono(r5aBlack, '#000', 1.5),
  ...trj(r5aTraj),
  dots(r5aStart, TRJ, 2.6), dots(r5aEq, '#000', 4)
], { arrows: r5aArrows, blackArrows: r5aBlackArrows, lblDy: 12 });
inset({ l: 561, t: 1363, r: 649, b: 1409 }, '#ffffff', [
  area(in5aShade, GREY, { fill: { value: 0.159 } }),
  curve(in5aBlue, '#4466ff', 1.4, 0), curve(in5aCurve, '#6b4a2e', 1.4, 0.3),
  curve(in5aTraj, TRJ, 1.4, 0),
  curve(in5aAxisV, '#000', 3, 0), curve(in5aAxisH, '#000', 3, 0),
  dots(in5aEq, '#000', 3)
], { border: '#8a8a8a' });

phase({ l: 757, t: 1203, r: 998, b: 1411 }, 9, GREY, [
  mono(r5bRed, NRED, 1), curve(r5bBlue, NBLUE, 1, 0),
  ...trj(r5bTraj),
  dots(r5bStart, TRJ, 2.6), dots(r5bEq, '#000', 4)
], { arrows: r5bArrows, lblDy: 12 });
inset({ l: 842, t: 1363, r: 929, b: 1409 }, '#ffffff', [
  area(in5bShade, GREY, { fill: { value: 0.145 } }),
  curve(in5bBlue, '#4466ff', 1.4, 0), curve(in5bRed, '#ff3333', 1.4, 0.3),
  curve(in5bAxisV, '#000', 3, 0), curve(in5bAxisH, '#000', 3, 0),
  dots(in5bEq, '#000', 3)
], { border: '#8a8a8a' });
</script>

<!-- titles -->
<div class="t" style="left:220px;top:17px">Original</div>
<div class="t" style="left:220px;top:314px">Alternative food</div>
<div class="t" style="left:220px;top:606px">Weak Allee effect</div>
<div class="t" style="left:220px;top:879px">Strong Allee effect</div>
<div class="t" style="left:220px;top:1165px">Allee effect &amp; alt. food</div>

<div class="t" style="left:600px;top:19px">green region</div>
<div class="t" style="left:891px;top:19px">blue region</div>
<div class="t" style="left:600px;top:312px">green region</div>
<div class="t" style="left:891px;top:312px">brown region</div>
<div class="t" style="left:764px;top:605px">grey region</div>
<div class="t" style="left:600px;top:880px">green region</div>
<div class="t" style="left:901px;top:880px">red region</div>
<div class="t" style="left:600px;top:1162px">green region</div>
<div class="t" style="left:900px;top:1162px">red region</div>

<!-- left axis labels -->
<div class="lb" style="left:15px;top:45px">s</div>
<div class="lb" style="left:196px;top:270px">q<sub>1</sub></div>
<div class="lb" style="left:404px;top:271px">q</div>

<div class="lb" style="left:17px;top:343px">s</div>
<div class="lb" style="left:217px;top:561px">q<sub>2</sub></div>
<div class="lb gr" style="left:325px;top:561px">q<sub>1</sub></div>
<div class="lb" style="left:407px;top:561px">q</div>

<div class="lb" style="left:13px;top:628px">s</div>
<div class="lb" style="left:137px;top:841px"><span class="ac">q<b>˜</b></span><sub>1</sub></div>
<div class="lb gr" style="left:296px;top:841px"><span class="ac">q<b>˜</b></span><sub>2</sub></div>
<div class="lb gr" style="left:355px;top:841px">q<sub>2</sub></div>
<div class="lb" style="left:415px;top:841px">q</div>

<div class="lb" style="left:16px;top:905px">s</div>
<div class="lb" style="left:256px;top:1121px"><span class="ac">q<b>˜</b></span><sub>1</sub></div>
<div class="lb gr" style="left:357px;top:1121px">q<sub>2</sub></div>
<div class="lb" style="left:411px;top:1121px">q</div>

<div class="lb" style="left:20px;top:1199px">s</div>
<div class="lb" style="left:275px;top:1417px"><span class="ac">q<b>ˆ</b></span><sub>1</sub></div>
<div class="lb gr" style="left:366px;top:1417px"><span class="ac">q<b>˜</b></span><sub>1</sub></div>
<div class="lb" style="left:405px;top:1417px">q</div>

</body>
</html>
